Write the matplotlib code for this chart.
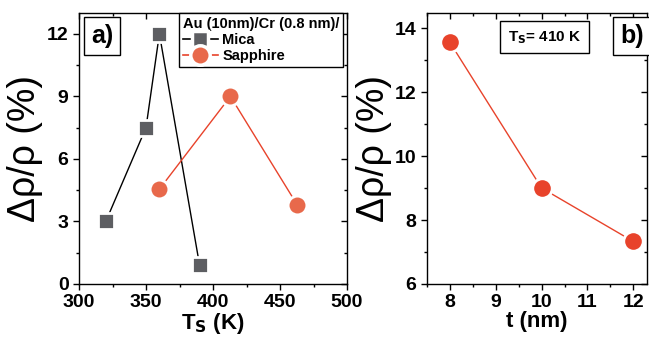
import matplotlib
matplotlib.use("Agg")
import matplotlib.pyplot as plt
from matplotlib.ticker import MultipleLocator
from matplotlib.lines import Line2D

# --- dane ---
mica_T = [320, 350, 360, 390]
mica_dr = [3.0, 7.5, 12.0, 0.9]
saph_T = [360, 413, 463]
saph_dr = [4.55, 9.0, 3.78]
grub_t = [8, 10, 12]
grub_dr = [13.55, 9.0, 7.33]

SZARY = '#5d5e62'
POMAR = '#e8694b'
CZERW = '#e8432b'

plt.rcParams['font.family'] = ['Liberation Sans', 'DejaVu Sans']

fig = plt.figure(figsize=(6.49, 3.41), dpi=100)
ax1 = fig.add_axes([79 / 649, 1 - 284 / 341, 268 / 649, 271 / 341])
ax2 = fig.add_axes([427 / 649, 1 - 284 / 341, 220 / 649, 271 / 341])


def styl(ax):
    ax.tick_params(which='both', direction='out', width=1, labelsize=14)
    ax.tick_params(which='major', length=4)
    ax.tick_params(which='minor', length=2.5)
    ax.tick_params(which='both', top=True, right=True)
    for lab in ax.get_xticklabels() + ax.get_yticklabels():
        lab.set_fontweight('bold')
    for s in ax.spines.values():
        s.set_linewidth(1)
    # ticki na gorze i po prawej do srodka
    for t in ax.xaxis.get_ticklines(minor=False)[1::2] + ax.xaxis.get_ticklines(minor=True)[1::2]:
        t.set_marker(3)
    for t in ax.yaxis.get_ticklines(minor=False)[1::2] + ax.yaxis.get_ticklines(minor=True)[1::2]:
        t.set_marker(0)


# --- panel a ---
ax1.plot(mica_T, mica_dr, '-', color='black', lw=1, zorder=2)
ax1.plot(mica_T, mica_dr, 's', color=SZARY, ms=12, mec='white', mew=2, zorder=3)
ax1.plot(saph_T, saph_dr, '-', color=CZERW, lw=1, zorder=2)
ax1.plot(saph_T, saph_dr, 'o', color=POMAR, ms=13.5, mec='white', mew=2, zorder=3)
ax1.set_xlim(300, 500)
ax1.set_ylim(0, 13)
ax1.xaxis.set_major_locator(MultipleLocator(50))
ax1.xaxis.set_minor_locator(MultipleLocator(25))
ax1.yaxis.set_major_locator(MultipleLocator(3))
ax1.yaxis.set_minor_locator(MultipleLocator(1.5))
styl(ax1)
ax1.set_xlabel(r'T$_\mathbf{S}$ (K)', fontsize=16, fontweight='bold', labelpad=0)
ax1.set_ylabel('Δρ/ρ (%)', fontsize=27)
ax1.yaxis.set_label_coords(-0.134, 0.5)
ax1.text(0.045, 0.96, 'a)', transform=ax1.transAxes, fontsize=18,
         fontweight='bold', va='top', ha='left',
         bbox=dict(boxstyle='square,pad=0.28', fc='white', ec='black', lw=1))

h_mica = (Line2D([], [], color='black', lw=1.2),
          Line2D([], [], marker='s', ls='', color=SZARY, ms=12, mec='white', mew=2.5))
h_saph = (Line2D([], [], color=CZERW, lw=1.2),
          Line2D([], [], marker='o', ls='', color=POMAR, ms=14, mec='white', mew=2.5))
leg = ax1.legend([h_mica, h_saph], ['Mica', 'Sapphire'],
                 title='Au (10nm)/Cr (0.8 nm)/', loc='upper right',
                 bbox_to_anchor=(0.985, 1.0), frameon=True, fancybox=False,
                 edgecolor='black', prop={'weight': 'bold', 'size': 10.5},
                 title_fontproperties={'weight': 'bold', 'size': 10.5},
                 handlelength=2.4, borderpad=0.25, labelspacing=0.15,
                 handletextpad=0.3, borderaxespad=0.0, framealpha=1)
leg._legend_box.align = 'left'
leg.get_frame().set_linewidth(1)

# --- panel b ---
ax2.plot(grub_t, grub_dr, '-', color=CZERW, lw=1, zorder=2)
ax2.plot(grub_t, grub_dr, 'o', color=CZERW, ms=14, mec='white', mew=2, zorder=3)
ax2.set_xlim(7.5, 12.3)
ax2.set_ylim(6, 14.47)
ax2.xaxis.set_major_locator(MultipleLocator(1))
ax2.xaxis.set_minor_locator(MultipleLocator(0.5))
ax2.yaxis.set_major_locator(MultipleLocator(2))
ax2.yaxis.set_minor_locator(MultipleLocator(1))
styl(ax2)
ax2.set_xlabel('t (nm)', fontsize=16, fontweight='bold', labelpad=0)
ax2.set_ylabel('Δρ/ρ (%)', fontsize=27)
ax2.yaxis.set_label_coords(-0.159, 0.5)
ax2.text(0.534, 0.91, r'T$_\mathbf{S}$= 410 K', transform=ax2.transAxes,
         fontsize=11, fontweight='bold', va='center', ha='center',
         bbox=dict(boxstyle='square,pad=0.5', fc='white', ec='black', lw=1))
ax2.text(0.985, 0.96, 'b)', transform=ax2.transAxes, fontsize=18,
         fontweight='bold', va='top', ha='right',
         bbox=dict(boxstyle='square,pad=0.28', fc='white', ec='black', lw=1))

fig.savefig('out.png', dpi=100)
